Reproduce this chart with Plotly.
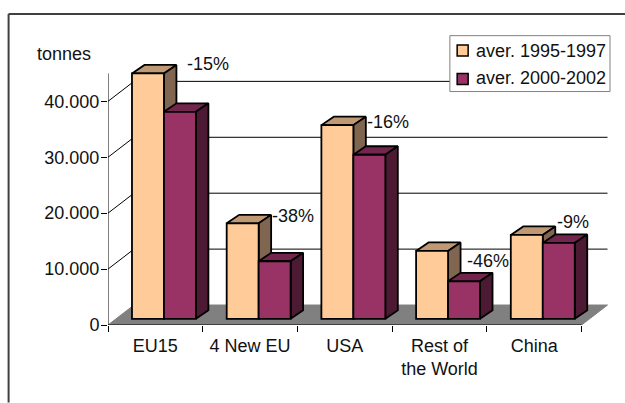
import plotly.graph_objects as go

categories = ["EU15", "4 New EU", "USA", "Rest of<br>the World", "China"]
aver_1995_1997 = [43890, 17070, 34640, 12140, 15000]
aver_2000_2002 = [37020, 10290, 29340, 6710, 13570]
change_labels = ["-15%", "-38%", "-16%", "-46%", "-9%"]
y_ticks = [0, 10000, 20000, 30000, 40000]
y_tick_labels = ["0", "10.000", "20.000", "30.000", "40.000"]
series_names = ["aver. 1995-1997", "aver. 2000-2002"]

W, H = 625, 403
X0, Y0 = 107.5, 325.5      # pixel position of the axis origin
PX_CAT, PX_VAL = 94.8, 56 / 10000
FONT = "Liberation Sans"
FS = 18
INK = "#111111"
EDGE = 1.8


def ux(px):
    return px / PX_CAT


def uy(px):
    return px / PX_VAL


def paper_x(px):
    return (px - X0) / (W - X0)


def paper_y(px):
    return (Y0 - px) / Y0


WALL_DX, WALL_DY = ux(26), uy(20)
BAR_DX, BAR_DY = ux(12.5), uy(8.5)
BASE = uy(6.2)
BAR_W = ux(32)
LEFT = [ux(24), ux(56)]
N = len(categories)


def polygons(polys):
    xs, ys = [], []
    for p in polys:
        xs += [q[0] for q in p] + [p[0][0], None]
        ys += [q[1] for q in p] + [p[0][1], None]
    return xs, ys


fig = go.Figure()

# walls: gridlines, diagonals and the floor
gx, gy = [], []
for v in y_ticks[1:]:
    gx += [0, WALL_DX, N + WALL_DX, None]
    gy += [v, v + WALL_DY, v + WALL_DY, None]
fig.add_trace(go.Scatter(x=gx, y=gy, mode="lines", line=dict(color="black", width=1),
                         showlegend=False, hoverinfo="skip", zorder=0))
fx, fy = polygons([[(0, 0), (N, 0), (N + WALL_DX, WALL_DY), (WALL_DX, WALL_DY)]])
fig.add_trace(go.Scatter(x=fx, y=fy, mode="lines", fill="toself", fillcolor="#808080",
                         line=dict(color="#808080", width=1), showlegend=False,
                         hoverinfo="skip", zorder=0))
fig.add_trace(go.Scatter(x=[0, 0, N], y=[45000, 0, 0], mode="lines",
                         line=dict(color="black", width=1), showlegend=False,
                         hoverinfo="skip", zorder=0))

styles = [("#FFCC99", "#BF9973", "#806650"), ("#993366", "#73264D", "#4D1A33")]
for s, values in enumerate([aver_1995_1997, aver_2000_2002]):
    front, top, side = styles[s]
    xs = [i + LEFT[s] + BAR_W / 2 for i in range(N)]
    tops, sides = [], []
    for i, v in enumerate(values):
        a = i + LEFT[s]
        b = a + BAR_W
        h = BASE + v
        tops.append([(a, h), (b, h), (b + BAR_DX, h + BAR_DY), (a + BAR_DX, h + BAR_DY)])
        sides.append([(b, BASE), (b + BAR_DX, BASE + BAR_DY), (b + BAR_DX, h + BAR_DY), (b, h)])
    for polys, color in ((tops, top), (sides, side)):
        px_, py_ = polygons(polys)
        fig.add_trace(go.Scatter(x=px_, y=py_, mode="lines", fill="toself", fillcolor=color,
                                 line=dict(color="black", width=EDGE), showlegend=False,
                                 hoverinfo="skip", zorder=1 + 2 * s))
    fig.add_trace(go.Bar(x=xs, y=values, base=BASE, width=BAR_W, name=series_names[s],
                         marker=dict(color=front, line=dict(color="black", width=EDGE)),
                         showlegend=False, zorder=2 + 2 * s))

fig.update_layout(
    width=W, height=H, autosize=False,
    margin=dict(l=X0, r=0, t=0, b=H - Y0, pad=0),
    paper_bgcolor="white", plot_bgcolor="rgba(0,0,0,0)",
    barmode="overlay",
    showlegend=False,
    font=dict(family=FONT, size=FS, color=INK),
    xaxis=dict(range=[0, ux(W - X0)], showgrid=False, zeroline=False, showline=False,
               tickmode="array", tickvals=[i + 0.5 for i in range(N)], ticktext=categories,
               ticks="", ticklabelstandoff=8,
               minor=dict(tickmode="linear", tick0=0, dtick=1, ticks="outside", ticklen=6,
                          tickcolor="black", tickwidth=1, showgrid=False)),
    yaxis=dict(range=[0, uy(Y0)], showgrid=False, zeroline=False, showline=False,
               tickmode="array", tickvals=y_ticks, ticktext=y_tick_labels,
               ticks="outside", ticklen=6, tickcolor="black", tickwidth=1,
               ticklabelstandoff=-2),
)


def line(x0, y0, x1, y1, color, width):
    fig.add_shape(type="line", xref="paper", yref="paper", x0=paper_x(x0), y0=paper_y(y0),
                  x1=paper_x(x1), y1=paper_y(y1), line=dict(color=color, width=width))


def rect(x0, y0, x1, y1, fill, color, width):
    fig.add_shape(type="rect", xref="paper", yref="paper", x0=paper_x(x0), y0=paper_y(y0),
                  x1=paper_x(x1), y1=paper_y(y1), fillcolor=fill, line=dict(color=color, width=width))


def label(x, y, text, anchor="center"):
    fig.add_annotation(xref="paper", yref="paper", x=paper_x(x), y=paper_y(y), text=text,
                       showarrow=False, xanchor=anchor, yanchor="middle",
                       font=dict(family=FONT, size=FS, color=INK))


# outer frame (top and left edges only)
line(8, 14, W, 14, "#404040", 2)
line(8, 14, 8, H, "#404040", 2)

label(63, 54, "tonnes")

change_pos = [(208, 64), (292.5, 216), (388, 122), (488, 261), (573, 222)]
for text, (x, y) in zip(change_labels, change_pos):
    label(x, y, text)

# legend box
rect(449.7, 35.7, 610, 91.7, "white", "#808080", 1)
rect(457, 45, 468, 56, styles[0][0], "black", 1.5)
rect(457, 73.7, 468, 84.7, styles[1][0], "black", 1.5)
label(474, 51, series_names[0], "left")
label(474, 78, series_names[1], "left")

fig.write_html("out.html", config={"displayModeBar": False},
               post_script="document.body.style.margin='0';")
